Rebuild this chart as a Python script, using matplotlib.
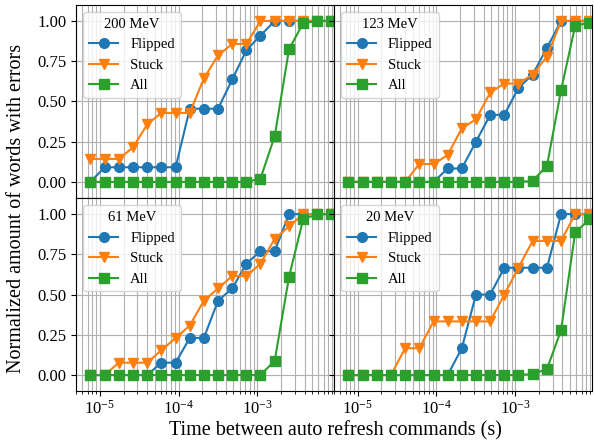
import matplotlib
matplotlib.use("Agg")
import matplotlib.pyplot as plt

plt.rcParams['font.family'] = ['Liberation Serif', 'DejaVu Serif']
plt.rcParams['mathtext.fontset'] = 'stix'

# Time between auto refresh commands (s)
times = [7.6e-6, 1.15e-5, 1.74e-5, 2.64e-5, 4.0e-5, 6.05e-5, 9.2e-5, 1.39e-4,
         2.1e-4, 3.18e-4, 4.82e-4, 7.3e-4, 1.1e-3, 1.67e-3, 2.54e-3, 3.84e-3,
         5.8e-3, 8.8e-3]

energies = ["200 MeV", "123 MeV", "61 MeV", "20 MeV"]

flipped_200 = [0, 1/11, 1/11, 1/11, 1/11, 1/11, 1/11, 5/11, 5/11, 5/11, 7/11, 9/11,
               10/11, 1, 1, 1, 1, 1]
stuck_200 = [2/14, 2/14, 2/14, 3/14, 5/14, 6/14, 6/14, 6/14, 9/14, 11/14, 12/14, 12/14,
             1, 1, 1, 1, 1, 1]
all_200 = [0, 0, 0, 0, 0, 0, 0, 0, 0, 0, 0, 0, 0.02, 0.284, 0.824, 0.986, 1, 1]

flipped_123 = [0, 0, 0, 0, 0, 0, 0, 1/12, 1/12, 3/12, 5/12, 5/12, 7/12, 8/12, 10/12,
               1, 1, 1]
stuck_123 = [0, 0, 0, 0, 0, 2/18, 2/18, 3/18, 6/18, 7/18, 10/18, 11/18, 11/18, 12/18,
             14/18, 1, 1, 1]
all_123 = [0, 0, 0, 0, 0, 0, 0, 0, 0, 0, 0, 0, 0, 0.006, 0.10, 0.57, 0.97, 0.99]

flipped_61 = [0, 0, 0, 0, 0, 1/13, 1/13, 3/13, 3/13, 6/13, 7/13, 9/13, 10/13, 10/13,
              1, 1, 1, 1]
stuck_61 = [0, 0, 1/13, 1/13, 1/13, 2/13, 3/13, 4/13, 6/13, 7/13, 8/13, 8/13, 9/13,
            11/13, 12/13, 1, 1, 1]
all_61 = [0, 0, 0, 0, 0, 0, 0, 0, 0, 0, 0, 0, 0, 0.089, 0.61, 0.967, 1, 1]

flipped_20 = [0, 0, 0, 0, 0, 0, 0, 0, 1/6, 1/2, 1/2, 2/3, 2/3, 2/3, 2/3, 1, 1, 1]
stuck_20 = [0, 0, 0, 0, 1/6, 1/6, 1/3, 1/3, 1/3, 1/3, 1/3, 1/2, 2/3, 5/6, 5/6, 5/6,
            1, 1]
all_20 = [0, 0, 0, 0, 0, 0, 0, 0, 0, 0, 0, 0, 0, 0.006, 0.037, 0.28, 0.886, 0.967]

flipped = [flipped_200, flipped_123, flipped_61, flipped_20]
stuck = [stuck_200, stuck_123, stuck_61, stuck_20]
all_err = [all_200, all_123, all_61, all_20]

fig, axes = plt.subplots(2, 2, sharex=True, sharey=True, figsize=(5.95, 4.4), dpi=100)
fig.subplots_adjust(left=0.128, right=0.995, top=0.989, bottom=0.111,
                    wspace=0, hspace=0)

for ax, title, fl, st, al in zip(axes.flat, energies, flipped, stuck, all_err):
    ax.plot(times, fl, marker='o', ms=7, lw=1.5, label='Flipped', color='#1f77b4')
    ax.plot(times, st, marker='v', ms=7, lw=1.5, label='Stuck', color='#ff7f0e')
    ax.plot(times, al, marker='s', ms=7, lw=1.5, label='All', color='#2ca02c')
    ax.set_xscale('log')
    ax.grid(True, which='both', color='#b0b0b0', lw=0.8)
    ax.set_axisbelow(True)
    ax.legend(title=title, loc='upper left', fontsize=10.5, title_fontsize=10.5)
    ax.tick_params(axis='y', labelsize=12)
    ax.tick_params(axis='x', labelsize=12, pad=3)

axes[0, 0].set_xlim(5.0e-6, 9.5e-3)
axes[0, 0].set_ylim(-0.1, 1.1)
axes[0, 0].set_yticks([0, 0.25, 0.5, 0.75, 1.0])
axes[0, 0].set_yticklabels(['0.00', '0.25', '0.50', '0.75', '1.00'])

fig.text(0.563, 0.0, 'Time between auto refresh commands (s)', ha='center',
         va='bottom', fontsize=14.5)
fig.text(0.012, 0.527, 'Normalized amount of words with errors', ha='left',
         va='center', rotation=90, fontsize=14.5)

fig.savefig('out.png', dpi=100)
